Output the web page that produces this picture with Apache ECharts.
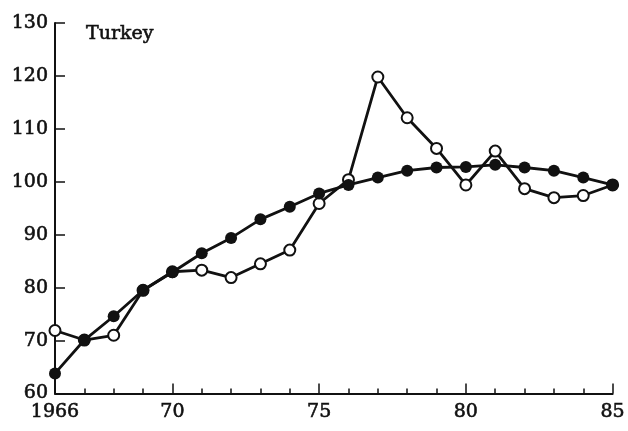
<!DOCTYPE html>
<html>
<head>
<meta charset="utf-8">
<script src="https://cdn.jsdelivr.net/npm/echarts@6/dist/echarts.min.js"></script>
<style>
  html, body { margin: 0; padding: 0; background: #fff; }
  #chart { width: 628px; height: 431px; }
</style>
</head>
<body>
<div id="chart"></div>
<script>
// Years on the horizontal axis
const years = [1966, 1967, 1968, 1969, 1970, 1971, 1972, 1973, 1974, 1975,
               1976, 1977, 1978, 1979, 1980, 1981, 1982, 1983, 1984, 1985];

// Observed index (open circles)
const actual = [71.9, 70.1, 71.0, 79.5, 83.0, 83.3, 81.9, 84.5, 87.1, 95.9,
                100.4, 119.8, 112.1, 106.3, 99.4, 105.8, 98.7, 97.0, 97.4, 99.4];

// Smoothed trend (filled circles)
const trend = [63.8, 70.1, 74.6, 79.5, 82.9, 86.5, 89.4, 92.9, 95.3, 97.8,
               99.4, 100.8, 102.1, 102.7, 102.8, 103.2, 102.7, 102.1, 100.8, 99.4];

// Year axis labels and the years that carry them
const labelYears = [1966, 1970, 1975, 1980, 1985];
const labelText = ['1966', '70', '75', '80', '85'];
// Years that get a long tick
const majorYears = [1970, 1975, 1980, 1985];

const serif = '"DejaVu Serif", "Liberation Serif", serif';
const ink = '#111';

// Slightly heavier serif text, like a printed figure
const textWeight = { textBorderColor: ink, textBorderWidth: 0.6 };

const chart = echarts.init(document.getElementById('chart'), null, { renderer: 'canvas' });

const cats = years.map(String);

chart.setOption({
  animation: false,
  backgroundColor: '#fff',
  grid: { left: 55, right: 13, top: 23, bottom: 37.5 },
  title: {
    text: 'Turkey',
    left: 81,
    top: 20,
    textStyle: Object.assign({ fontFamily: serif, fontSize: 19, fontWeight: 'normal', color: ink }, textWeight)
  },
  xAxis: [
    {
      type: 'category',
      data: cats,
      boundaryGap: false,
      axisLine: { lineStyle: { color: ink, width: 2 } },
      axisTick: { inside: true, length: 5, lineStyle: { color: ink, width: 1.5 }, alignWithLabel: true, interval: 0 },
      axisLabel: Object.assign({
        interval: (i, v) => labelYears.includes(Number(v)),
        formatter: v => labelText[labelYears.indexOf(Number(v))],
        fontFamily: serif, fontSize: 19, fontWeight: 'normal', color: ink, margin: 9
      }, textWeight),
      splitLine: { show: false }
    },
    {
      type: 'category',
      data: cats,
      boundaryGap: false,
      position: 'bottom',
      axisLine: { show: false },
      axisTick: {
        inside: true, length: 10,
        interval: (i, v) => majorYears.includes(Number(v)),
        lineStyle: { color: ink, width: 1.5 }
      },
      axisLabel: { show: false },
      splitLine: { show: false }
    }
  ],
  yAxis: {
    type: 'value',
    min: 60,
    max: 130,
    interval: 10,
    axisLine: { show: true, lineStyle: { color: ink, width: 2 } },
    axisTick: { show: true, inside: true, length: 10, lineStyle: { color: ink, width: 1.5 } },
    axisLabel: Object.assign({ fontFamily: serif, fontSize: 19, fontWeight: 'normal', color: ink, margin: 7 }, textWeight),
    splitLine: { show: false }
  },
  series: [
    {
      name: 'actual',
      type: 'line',
      data: actual,
      z: 2,
      symbol: 'circle',
      symbolSize: 11,
      showAllSymbol: true,
      lineStyle: { color: ink, width: 2.8 },
      itemStyle: { color: '#fff', borderColor: ink, borderWidth: 2 }
    },
    {
      name: 'trend',
      type: 'line',
      data: trend,
      z: 3,
      symbol: 'circle',
      symbolSize: 12,
      showAllSymbol: true,
      lineStyle: { color: ink, width: 2.8 },
      itemStyle: { color: ink, borderColor: ink, borderWidth: 0 }
    }
  ]
});
</script>
</body>
</html>
